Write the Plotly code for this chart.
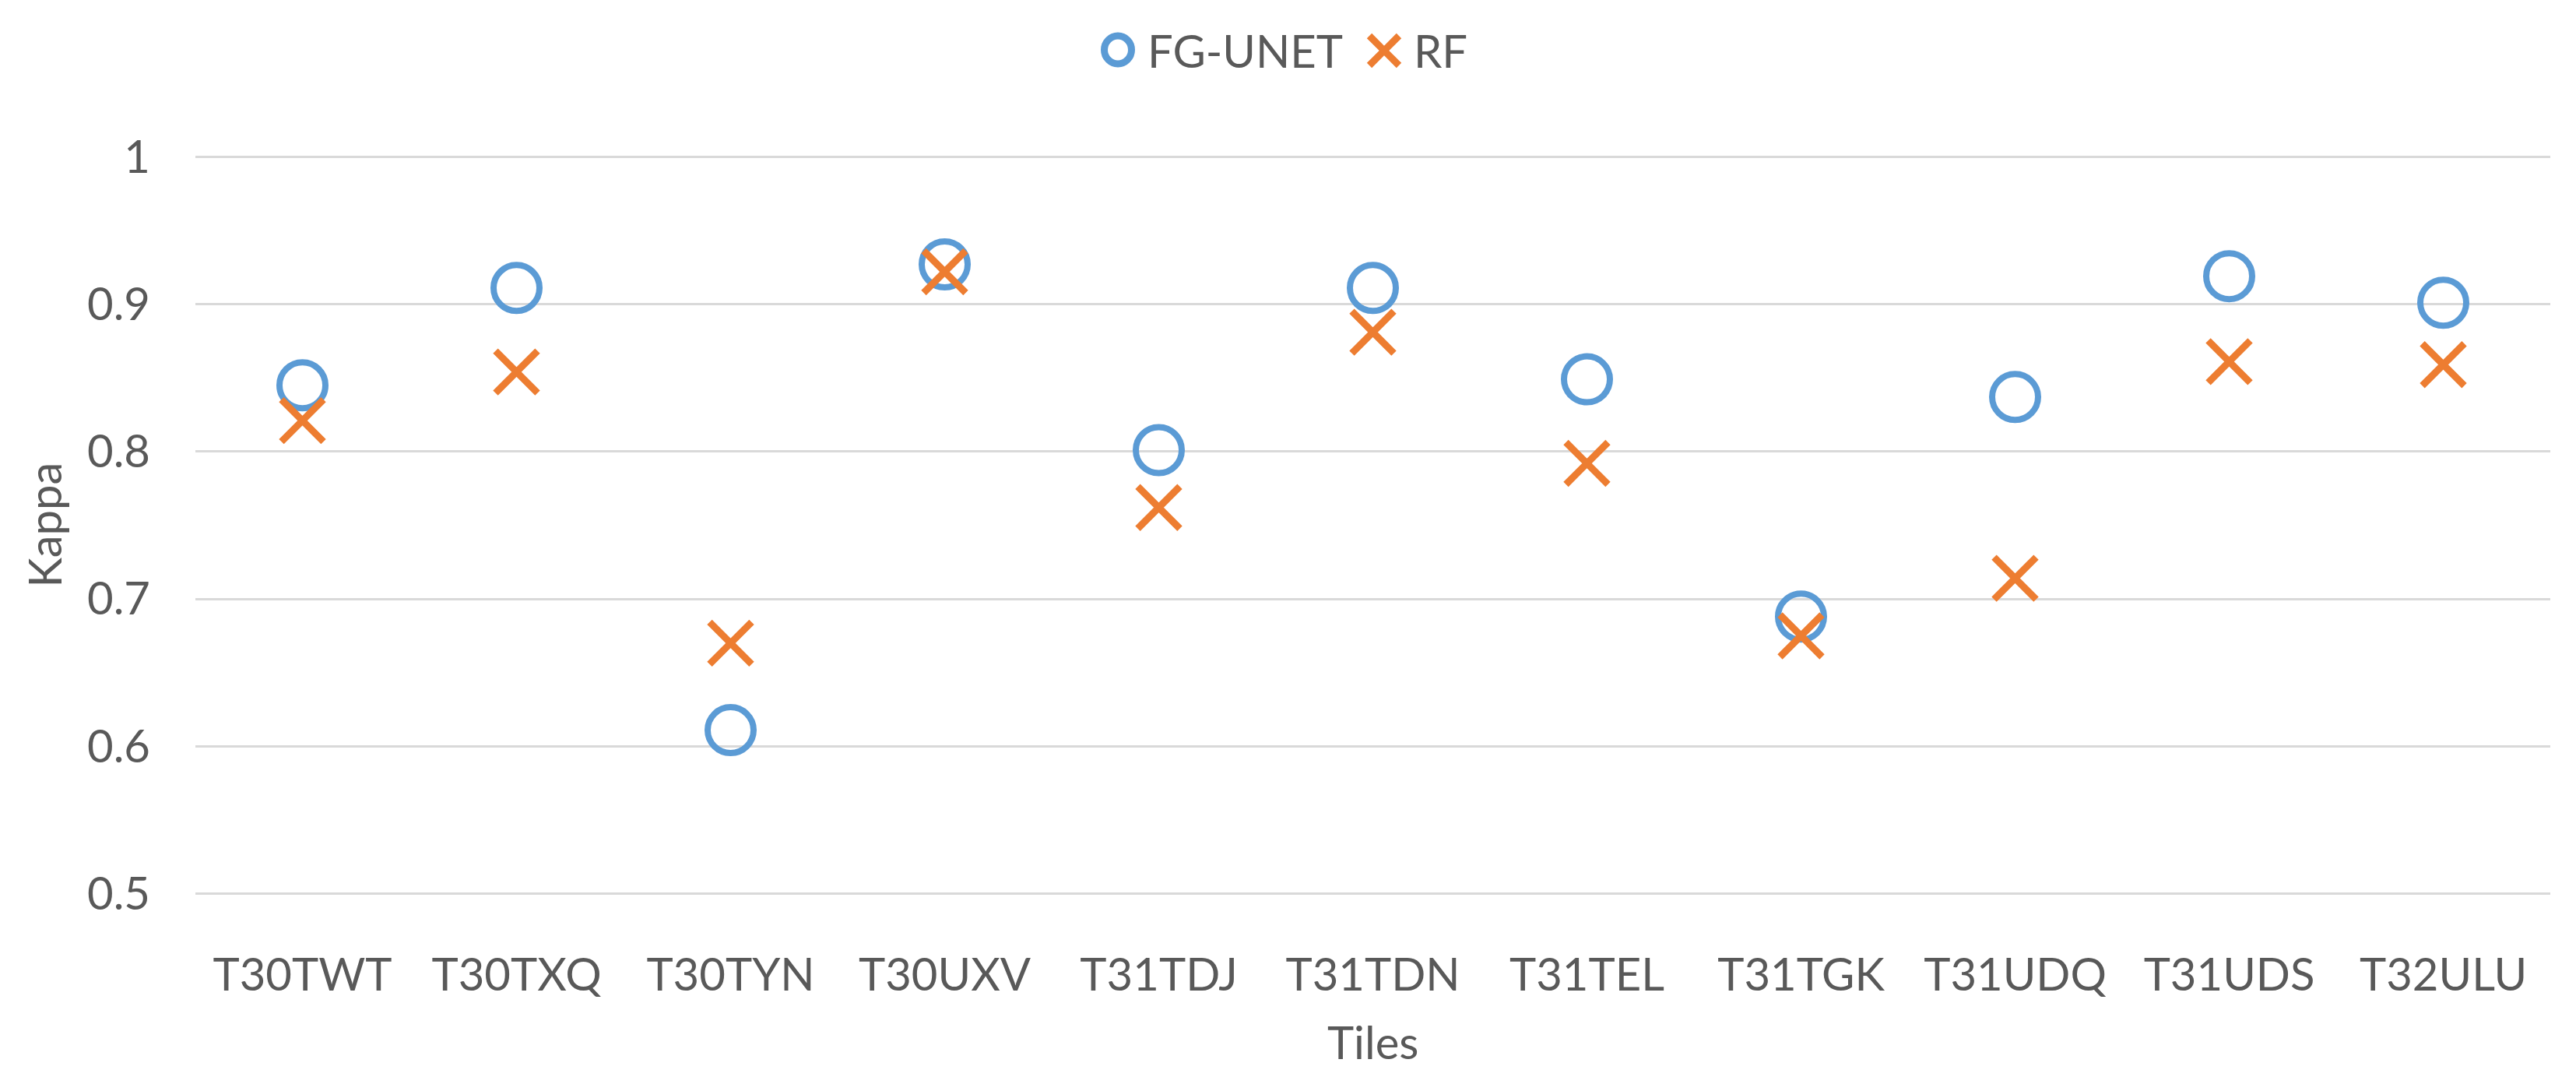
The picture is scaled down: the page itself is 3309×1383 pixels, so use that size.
import plotly.graph_objects as go

tiles = ["T30TWT", "T30TXQ", "T30TYN", "T30UXV", "T31TDJ", "T31TDN",
         "T31TEL", "T31TGK", "T31UDQ", "T31UDS", "T32ULU"]
fg_unet = [0.845, 0.911, 0.611, 0.927, 0.801, 0.911, 0.849, 0.688, 0.837, 0.919, 0.901]
rf = [0.821, 0.854, 0.670, 0.922, 0.762, 0.881, 0.792, 0.675, 0.714, 0.861, 0.859]

y_ticks = [0.5, 0.6, 0.7, 0.8, 0.9, 1.0]
y_labels = ["0.5", "0.6", "0.7", "0.8", "0.9", "1"]

blue = "#5B9BD5"
orange = "#ED7D31"
text_grey = "#595959"
font_family = "Lato, Liberation Sans, sans-serif"
fsize = 58

W, H = 3309, 1383
left, right, top, bottom = 243, 41, 192, 242
pw = W - left - right
ph = H - top - bottom


def px(x):
    return (x - left) / pw


def py(y):
    return (H - bottom - y) / ph


fig = go.Figure()

fig.add_trace(go.Scatter(
    x=tiles, y=fg_unet, name="FG-UNET", mode="markers",
    marker=dict(symbol="circle-open", size=59, color=blue, line=dict(width=8, color=blue))
))

fig.add_trace(go.Scatter(
    x=tiles, y=rf, name="RF", mode="markers",
    marker=dict(symbol="x-thin", size=54, color=orange, line=dict(width=9, color=orange))
))

# legend drawn by hand, plotly caps legend symbols at 16px
fig.add_shape(type="circle", xref="paper", yref="paper",
              xsizemode="pixel", ysizemode="pixel",
              xanchor=px(1428), yanchor=py(56),
              x0=-17.5, x1=17.5, y0=-18, y1=18,
              line=dict(color=blue, width=9))
for sgn in (1, -1):
    fig.add_shape(type="line", xref="paper", yref="paper",
                  xsizemode="pixel", ysizemode="pixel",
                  xanchor=px(1770), yanchor=py(57),
                  x0=-19, x1=19, y0=-19 * sgn, y1=19 * sgn,
                  line=dict(color=orange, width=9))
fig.add_annotation(text="FG-UNET", showarrow=False, xref="paper", yref="paper",
                   x=px(1464), y=py(57), xanchor="left", yanchor="middle",
                   font=dict(family=font_family, size=fsize, color=text_grey))
fig.add_annotation(text="RF", showarrow=False, xref="paper", yref="paper",
                   x=px(1806), y=py(57), xanchor="left", yanchor="middle",
                   font=dict(family=font_family, size=fsize, color=text_grey))

# axis titles
fig.add_annotation(text="Tiles", showarrow=False, xref="paper", yref="paper",
                   x=0.5, y=py(1329), xanchor="center", yanchor="middle",
                   font=dict(family=font_family, size=fsize, color=text_grey))
fig.add_annotation(text="Kappa", showarrow=False, xref="paper", yref="paper",
                   x=px(48), y=0.5, xanchor="center", yanchor="middle", textangle=-90,
                   font=dict(family=font_family, size=fsize, color=text_grey))

fig.update_layout(
    width=W, height=H,
    margin=dict(l=left, r=right, t=top, b=bottom),
    plot_bgcolor="white", paper_bgcolor="white",
    font=dict(family=font_family, size=fsize, color=text_grey),
    showlegend=False,
    xaxis=dict(
        range=[-0.5, len(tiles) - 0.5],
        showgrid=False, zeroline=False, showline=False, ticks="",
        ticklabelstandoff=64,
    ),
    yaxis=dict(
        range=[0.4993, 1.0007], tickvals=y_ticks, ticktext=y_labels,
        showgrid=True, gridcolor="#D9D9D9", gridwidth=3,
        zeroline=False, showline=False, ticks="", ticklabelstandoff=57,
    ),
)

fig.write_html("out.html")
